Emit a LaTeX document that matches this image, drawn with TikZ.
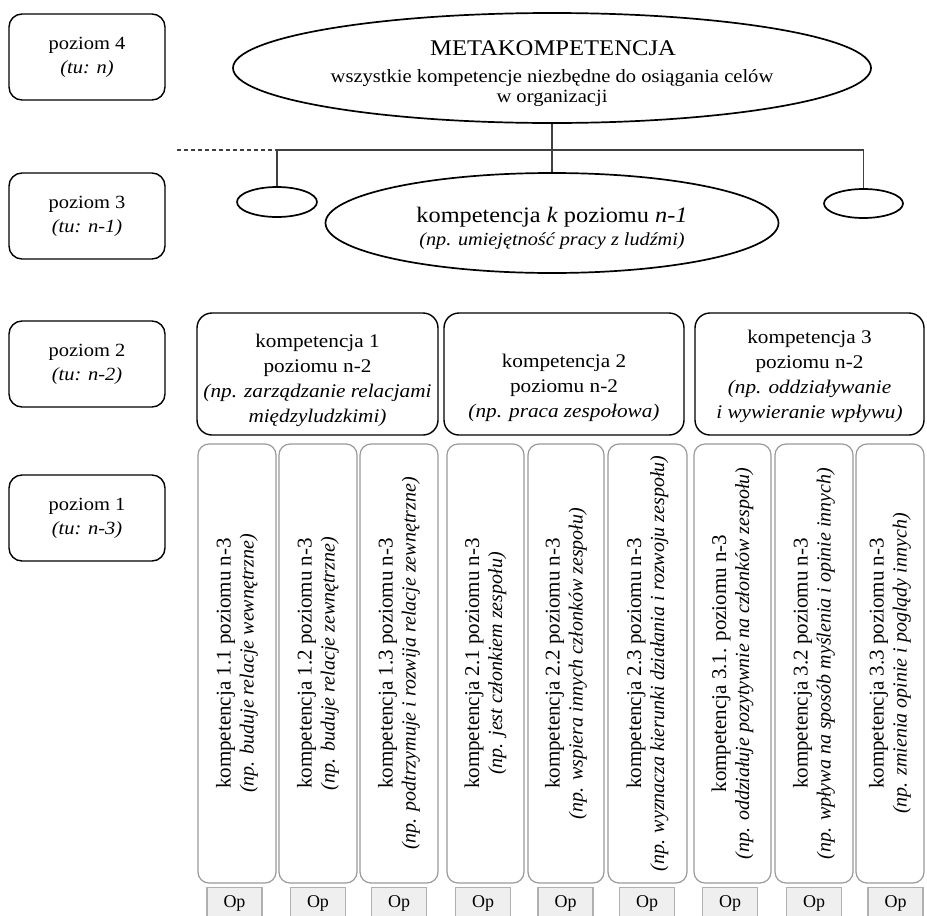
\documentclass[tikz,border=0pt]{standalone}
\usepackage{fontspec}
\setmainfont{Liberation Serif}[FakeStretch=1.1]
\newfontfamily\colfont{Liberation Serif}
\usetikzlibrary{shapes.geometric}

\definecolor{colframe}{HTML}{9A9A9A}
\definecolor{opframe}{HTML}{B0B0B0}
\definecolor{opfill}{HTML}{EFEFEF}
\definecolor{linkcol}{HTML}{404040}

% italic example line inside a vertical column
\newcommand\colex[1]{{\itshape\fontsize{20}{23}\selectfont #1}}
% italic example line inside a level-2 box
\newcommand\grpex[1]{{\itshape #1}}

\tikzset{
  lvl/.style={draw=black, line width=1.4pt, rounded corners=13pt,
    minimum width=156pt, minimum height=86pt, inner sep=0pt, align=center,
    font=\fontsize{18.6}{24}\selectfont},
  oval/.style={draw=black, line width=1.7pt, ellipse, inner sep=0pt},
  grp/.style={draw=black, line width=1.4pt, rounded corners=15pt,
    minimum height=122pt, inner sep=0pt},
  grptext/.style={align=center, inner sep=0pt, font=\fontsize{19.3}{25}\selectfont},
  col/.style={draw=colframe, line width=1.2pt, rounded corners=11pt, rotate=90,
    minimum width=439pt, inner sep=0pt, align=center,
    font=\colfont\fontsize{21}{23}\selectfont},
  op/.style={draw=opframe, fill=opfill, line width=1.3pt, anchor=north,
    minimum width=55pt, minimum height=32pt, inner sep=0pt,
    font=\colfont\fontsize{18}{18}\selectfont},
  link/.style={draw=linkcol, line width=1.1pt},
  line/.style={anchor=base, inner sep=0pt},
}

\begin{document}
\begin{tikzpicture}[x=1pt, y=-1pt]
\useasboundingbox (0,0) rectangle (927,916);
\clip (0,0) rectangle (927,916);

% level labels on the left
\node[lvl] (p4) at (87,57)  {poziom 4\\\textit{(tu: n)}};
\node[lvl] (p3) at (87,216) {poziom 3\\\textit{(tu: n-1)}};
\node[lvl] (p2) at (87,364) {poziom 2\\\textit{(tu: n-2)}};
\node[lvl] (p1) at (87,518) {poziom 1\\\textit{(tu: n-3)}};

% level 4: metacompetence
\node[oval, minimum width=638pt, minimum height=110pt] (meta) at (552,68) {};
\node[line, font=\fontsize{22.4}{22}\selectfont] (metaT) at (553,55) {METAKOMPETENCJA};
\node[line, font=\fontsize{18.7}{20}\selectfont] (metaA) at (552,82)
  {wszystkie kompetencje niezbędne do osiągania celów};
\node[line, font=\fontsize{18.7}{20}\selectfont] (metaB) at (552,102) {w organizacji};

% level 3: competence k and its siblings
\node[oval, minimum width=453pt, minimum height=100pt] (kn) at (552,223) {};
\node[line, font=\fontsize{22.1}{22}\selectfont] (knT) at (552,222)
  {kompetencja \textit{k} poziomu \textit{n-1}};
\node[line, font=\fontsize{18.4}{22}\selectfont] (knE) at (552,245)
  {\textit{(np. umiejętność pracy z ludźmi)}};
\node[oval, minimum width=80pt, minimum height=30pt] (sl) at (277,202) {};
\node[oval, minimum width=79pt, minimum height=29pt] (sr) at (863.5,203.5) {};

% connectors between level 4 and level 3
\coordinate (barL) at (177,150);
\draw[link] (meta.south) -- (kn.north);
\draw[link] (sl.north) -- (sl.north |- barL) -- (sr.north |- barL) -- (sr.north);
\draw[link, dash pattern=on 4pt off 3pt] (barL) -- (sl.north |- barL);

% level 2 boxes
\node[grp, minimum width=241pt] (g1) at (317.5,374) {};
\node[grp, minimum width=240pt] (g2) at (564,374) {};
\node[grp, minimum width=229pt] (g3) at (809.5,374) {};
\node[grptext] (g1t) at (317.5,380)
  {kompetencja 1\\poziomu n-2\\\grpex{(np. zarządzanie relacjami}\\\grpex{międzyludzkimi)}};
\node[grptext] (g2t) at (564,388)
  {kompetencja 2\\poziomu n-2\\\grpex{(np. praca zespołowa)}};
\node[grptext] (g3t) at (809.5,376)
  {kompetencja 3\\poziomu n-2\\\grpex{(np. oddziaływanie}\\\grpex{i wywieranie wpływu)}};

% level 1 columns
\node[col, minimum height=78pt] (c1) at (237,663.5)
  {kompetencja 1.1 poziomu n-3\\\colex{(np. buduje relacje wewnętrzne)}};
\node[col, minimum height=78pt] (c2) at (318,663.5)
  {kompetencja 1.2 poziomu n-3\\\colex{(np. buduje relacje zewnętrzne)}};
\node[col, minimum height=78pt] (c3) at (399,663.5)
  {kompetencja 1.3 poziomu n-3\\\colex{(np. podtrzymuje i rozwija relacje zewnętrzne)}};
\node[col, minimum height=77pt] (c4) at (485.5,663.5)
  {kompetencja 2.1 poziomu n-3\\\colex{(np. jest członkiem zespołu)}};
\node[col, minimum height=76pt] (c5) at (566,663.5)
  {kompetencja 2.2 poziomu n-3\\\colex{(np. wspiera innych członków zespołu)}};
\node[col, minimum height=79pt] (c6) at (647.5,663.5)
  {kompetencja 2.3 poziomu n-3\\\colex{(np. wyznacza kierunki działania i rozwoju zespołu)}};
\node[col, minimum height=77pt] (c7) at (732.5,663.5)
  {kompetencja 3.1. poziomu n-3\\\colex{(np. oddziałuje pozytywnie na członków zespołu)}};
\node[col, minimum height=78pt] (c8) at (814,663.5)
  {kompetencja 3.2 poziomu n-3\\\colex{(np. wpływa na sposób myślenia i opinie innych)}};
\node[col, minimum height=68pt] (c9) at (890,663.5)
  {kompetencja 3.3 poziomu n-3\\\colex{(np. zmienia opinie i poglądy innych)}};

% Op tabs under the columns
\node[op] (o1) at (234.5,887) {Op};
\node[op] (o2) at (318,887)   {Op};
\node[op] (o3) at (399,887)   {Op};
\node[op] (o4) at (483,887)   {Op};
\node[op] (o5) at (565.5,887) {Op};
\node[op] (o6) at (647,887)   {Op};
\node[op] (o7) at (730,887)   {Op};
\node[op] (o8) at (814,887)   {Op};
\node[op] (o9) at (895.5,887) {Op};
\end{tikzpicture}
\end{document}
